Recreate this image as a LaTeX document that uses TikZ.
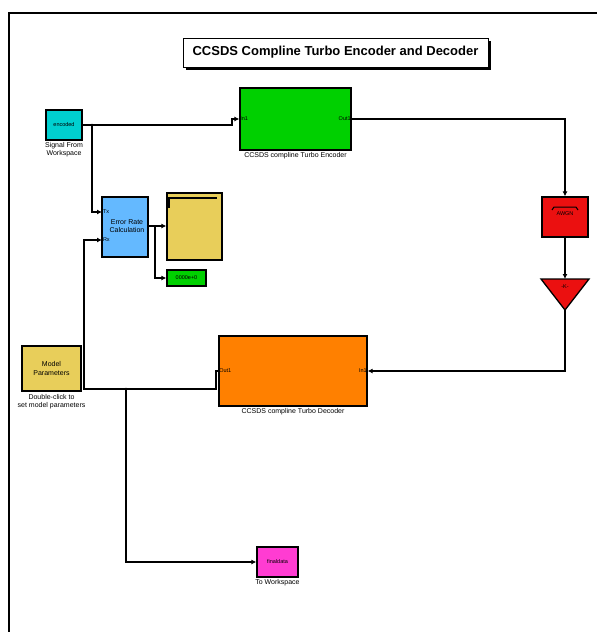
\documentclass[tikz,border=0pt]{standalone}
\usepackage{fontspec}
\setmainfont{Liberation Sans}
\usetikzlibrary{arrows.meta,positioning}
\definecolor{encgreen}{RGB}{0,208,0}
\definecolor{srccyan}{RGB}{0,208,208}
\definecolor{errblue}{RGB}{100,185,255}
\definecolor{dispyel}{RGB}{232,206,90}
\definecolor{decorange}{RGB}{255,128,0}
\definecolor{awgnred}{RGB}{235,16,16}
\definecolor{wspink}{RGB}{255,60,210}
\tikzset{
  blk/.style={draw, line width=1.3pt, inner sep=0pt},
  porttxt/.style={font=\fontsize{5.5}{6}\selectfont, inner sep=0.8pt},
  blkcap/.style={font=\fontsize{7}{8}\selectfont, align=center, inner sep=0.5pt},
  intxt/.style={font=\fontsize{7}{8.5}\selectfont, align=center, inner sep=0pt},
  wire/.style={line width=1.2pt},
  sig/.style={wire, -{Latex[length=5pt,width=5pt]}},
}
\begin{document}
\begin{tikzpicture}[x=1pt,y=-1pt]
\useasboundingbox (0,0) rectangle (597,632);
\draw[line width=1.3pt] (9,632) -- (9,13) -- (597,13);

% title with shadow
\fill (185.5,40.5) rectangle (490.5,69.5);
\node[blk, line width=1pt, fill=white, minimum width=305pt, minimum height=29pt,
      font=\bfseries\fontsize{13}{15}\selectfont] (title) at (335.5,52.5)
      {CCSDS Compline Turbo Encoder and Decoder};

% blocks
\node[blk, fill=encgreen, minimum width=111pt, minimum height=62pt] (enc) at (295.5,119) {};
\node[porttxt, anchor=west] (encin) at (enc.west) {In1};
\node[porttxt, anchor=east] (encout) at (enc.east) {Out1};
\node[blkcap, below=1.5pt of enc] (enccap) {CCSDS compline Turbo Encoder};

\node[blk, fill=srccyan, minimum width=36pt, minimum height=30pt] (src) at (64,125) {};
\node[porttxt, anchor=center] (srctxt) at (src.center) {encoded};
\node[blkcap, below=1.5pt of src] (srccap) {Signal From\\Workspace};

\node[blk, fill=errblue, minimum width=46pt, minimum height=60pt] (err) at (125,227) {};
\node[intxt] (errtxt) at (127,226) {Error Rate\\Calculation};
\coordinate (tx) at (102,212);
\coordinate (rx) at (102,240);
\node[porttxt, anchor=west] (txl) at (tx) {Tx};
\node[porttxt, anchor=west] (rxl) at (rx) {Rx};

\node[blk, fill=dispyel, minimum width=55pt, minimum height=67pt] (disp) at (194.5,226.5) {};
\draw[line width=1.8pt] (169,208) -- (169,198) -- (217,198);

\node[blk, fill=encgreen, minimum width=39pt, minimum height=16pt] (small) at (186.5,278) {};
\node[porttxt] (smalltxt) at (small.center) {0000e+0};

\node[blk, fill=dispyel, minimum width=59pt, minimum height=45pt] (model) at (51.5,368.5) {};
\node[intxt] (modeltxt) at (model.center) {Model\\Parameters};
\node[blkcap, below=2.5pt of model] (modelcap) {Double-click to\\set model parameters};

\node[blk, fill=decorange, minimum width=148pt, minimum height=70pt] (dec) at (293,371) {};
\node[porttxt, anchor=west] (decout) at (dec.west) {Out1};
\node[porttxt, anchor=east] (decin) at (dec.east) {In1};
\node[blkcap, below=1.5pt of dec] (deccap) {CCSDS compline Turbo Decoder};

\node[blk, fill=awgnred, minimum width=46pt, minimum height=40pt] (awgn) at (565,217) {};
\draw[line width=1pt] (552,210) -- (554,207) -- (576,207) -- (578,210);
\node[porttxt] (awgntxt) at (565,214) {AWGN};

\coordinate (gtop) at (565,279);
\coordinate (gtip) at (565,310);
\draw[blk, fill=awgnred] (541,279) -- (589,279) -- (gtip) -- cycle;
\node[porttxt] (gaintxt) at (565,287) {-K-};

\node[blk, fill=wspink, minimum width=41pt, minimum height=30pt] (ws) at (277.5,562) {};
\node[porttxt] (wstxt) at (ws.center) {finaldata};
\node[blkcap, below=1.5pt of ws] (wscap) {To Workspace};

% connectors
\coordinate (b1) at (92,125);
\draw[sig] (src.east) -- (232,125) |- (enc.west);
\fill (b1) circle (1.3pt);
\draw[sig] (b1) |- (tx);
\draw[sig] (enc.east) -| (awgn.north);
\draw[sig] (awgn.south) -- (gtop);
\draw[sig] (gtip) |- (dec.east);
\coordinate (b2) at (126,389);
\draw[sig] (dec.west) -- (216,371) -- (216,389) -- (84,389) |- (rx);
\fill (b2) circle (1.3pt);
\draw[sig] (b2) |- (ws.west);
\coordinate (b3) at (155,226);
\draw[sig] (err.east |- b3) -- (disp.west |- b3);
\draw[sig] (b3) |- (small.west);
\end{tikzpicture}
\end{document}
